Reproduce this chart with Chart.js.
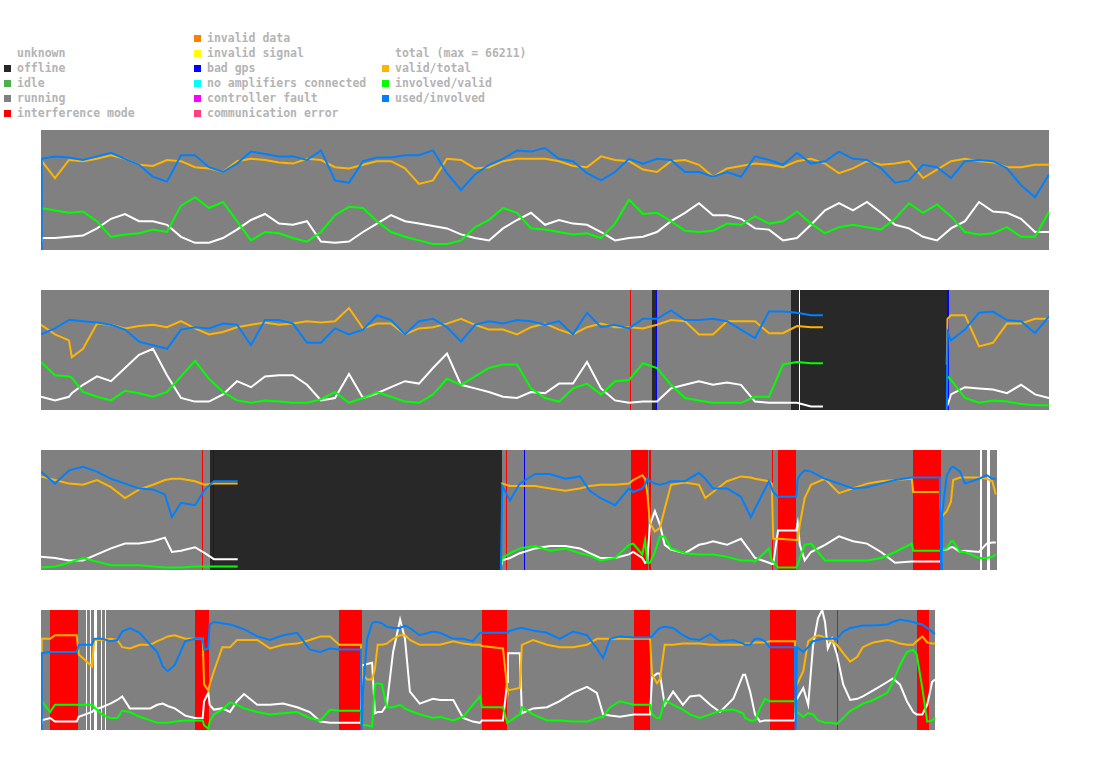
<!DOCTYPE html>
<html>
<head>
<meta charset="utf-8">
<script src="https://cdn.jsdelivr.net/npm/chart.js@4.4.1/dist/chart.umd.min.js"></script>
<style>
  body { margin: 0; background: #fff; width: 1095px; height: 764px; position: relative; overflow: hidden; }
  #legend { position: absolute; left: 0; top: 0; font: bold 11.5px "DejaVu Sans Mono", monospace; color: #b4b4b4; }
  .key { position: absolute; white-space: pre; line-height: 15px; height: 15px; }
  .sw { position: absolute; width: 7px; height: 7px; }
  .strip { position: absolute; left: 41px; width: 1008px; height: 120px; }
</style>
</head>
<body>
<div id="legend"></div>
<div class="strip" style="top:130px"><canvas id="s1" width="1008" height="120"></canvas></div>
<div class="strip" style="top:290px"><canvas id="s2" width="1008" height="120"></canvas></div>
<div class="strip" style="top:450px"><canvas id="s3" width="1008" height="120"></canvas></div>
<div class="strip" style="top:610px"><canvas id="s4" width="1008" height="120"></canvas></div>
<script>
// status categories
const statusNames = ["unknown", "offline", "idle", "running", "interference mode",
  "invalid data", "invalid signal", "bad gps", "no amplifiers connected",
  "controller fault", "communication error"];
const statusColors = ["#ffffff", "#282828", "#4caf50", "#808080", "#ff0000",
  "#ff8000", "#ffff00", "#0000ff", "#00ffff", "#ff00ff", "#ff4080"];

const seriesNames = ["total (max = 66211)", "valid/total", "involved/valid", "used/involved"];
const seriesColors = ["#ffffff", "#ffb400", "#00ff00", "#0080ff"];

// strip 1 (minutes from strip start, values in %)
const time1 = [0,1,20,40,60,80,100,120,140,160,180,200,220,240,260,280,300,320,340,360,380,400,420,440,460,480,500,520,540,560,580,600,620,640,660,680,700,720,740,760,780,800,820,840,860,880,900,920,940,960,980,1000,1020,1040,1060,1080,1100,1120,1140,1160,1180,1200,1220,1240,1260,1280,1300,1320,1340,1360,1380,1400,1420,1440];
const validTotal1 = [75,75,60,75,74,76,79,76,71,70,75,74,69,68,65,74,76,75,73,72,76,75,69,68,71,74,74,68,55,58,76,75,68,69,74,76,76,76,74,70,69,78,75,74,67,65,74,75,71,61,68,70,72,71,69,74,76,72,64,68,74,71,72,74,60,67,74,76,74,73,69,69,71,71];
const usedInv1 = [0,76,78,77,75,78,81,76,71,61,57,79,79,69,65,72,82,80,78,78,75,83,58,56,74,77,77,79,79,83,64,50,63,71,76,83,82,85,76,74,64,58,65,76,72,76,75,65,65,61,65,61,78,75,71,81,72,74,82,76,75,68,56,58,71,69,60,74,75,74,68,54,44,63];
const invValid1 = [35,35,33,31,32,24,11,13,14,17,15,37,44,35,40,24,8,15,14,10,7,15,29,36,35,24,15,11,8,5,5,8,19,25,35,31,18,17,15,13,14,10,22,42,30,31,24,16,15,16,22,21,28,22,24,32,22,14,19,21,19,17,26,39,31,38,28,15,13,14,19,11,11,32];
const total1 = [8,10,10,11,12,18,26,30,24,24,21,11,6,6,10,17,25,30,22,21,24,7,6,7,15,22,29,24,22,20,18,13,10,8,18,25,31,21,25,22,21,15,8,10,11,15,24,31,39,29,29,26,18,17,8,10,21,33,39,33,40,31,21,18,11,8,18,24,40,32,31,26,15,15];
const status1 = [[0,1440,3]];

// strip 2
const time2 = [0,20,40,44,60,80,100,120,140,160,180,200,220,240,260,280,300,320,340,360,380,400,420,440,460,480,500,520,540,560,580,600,620,640,660,680,700,720,740,760,780,800,820,840,860,880,900,920,940,960,980,1000,1020,1040,1060,1080,1100,1117,1200,1294,1295,1300,1320,1340,1360,1380,1400,1420,1440];
const validTotal2 = [71,63,58,44,51,72,71,68,70,71,69,74,68,63,65,69,71,73,71,72,74,73,74,85,68,72,72,63,68,69,72,76,71,67,67,63,69,72,67,63,69,72,69,69,68,71,75,74,63,63,74,74,74,64,64,70,69,69,null,38,76,79,79,53,56,72,72,76,76];
const usedInv2 = [63,68,75,75,74,73,71,67,57,54,51,67,69,68,72,71,54,75,75,72,56,56,68,63,67,79,75,63,74,76,69,57,71,74,72,75,74,71,74,63,81,69,71,68,76,76,83,75,75,76,74,67,60,82,82,81,79,79,null,0,65,58,67,81,82,75,74,64,78];
const invValid2 = [40,29,28,27,15,11,8,16,14,11,15,28,41,26,15,8,6,8,7,6,6,9,15,6,10,15,11,7,6,13,26,21,28,35,38,38,18,10,7,18,22,13,24,25,39,35,21,10,8,6,6,6,11,11,38,40,39,39,null,28,28,25,10,6,8,7,5,4,4];
const total2 = [11,8,11,14,21,28,24,35,46,51,29,10,7,7,13,24,19,28,29,29,21,8,10,30,10,14,19,24,22,35,47,21,18,15,11,10,15,14,22,22,40,18,8,6,7,7,18,21,24,21,23,21,7,6,6,6,3,3,null,4,4,13,19,18,17,14,21,13,10];
const status2 = [[0,841,3],[841,843,4],[843,873,3],[873,878,1],[878,879.5,7],[879.5,1071,3],[1071,1083,1],[1083,1084.5,0],[1084.5,1294,1],[1294,1297,7],[1297,1440,3]];

// strip 3
const time3 = [0,20,40,60,80,100,120,140,160,177,187,200,220,234,247,281,400,657,659,670,684,706,727,749,770,784,799,820,840,846,859,863,866,870,877,884,891,900,920,940,949,960,980,1000,1014,1020,1040,1044,1046,1053,1079,1081,1084,1091,1100,1120,1140,1160,1180,1200,1220,1244,1246,1284,1286,1287,1294,1300,1303,1313,1320,1340,1351,1359,1364];
const validTotal3 = [78,75,72,71,75,69,60,67,71,75,76,76,74,71,72,72,null,72,72,70,70,70,68,66,68,70,71,71,72,75,79,76,65,39,32,35,51,71,73,71,60,65,74,78,77,76,74,72,26,26,25,25,38,60,71,76,64,68,72,74,75,76,65,65,44,44,49,57,75,77,77,77,76,74,63];
const usedInv3 = [82,72,83,86,82,76,72,68,67,63,44,56,54,67,74,74,null,0,70,58,72,80,80,76,78,66,60,54,68,65,68,71,76,74,72,71,72,74,74,81,76,68,68,61,44,51,74,68,65,61,61,76,79,83,82,76,72,68,69,72,75,77,77,77,0,45,79,85,86,82,72,76,79,76,76];
const invValid3 = [2,3,6,10,7,4,4,4,3,2,2,2,3,3,3,3,null,5,10,14,18,20,16,18,14,12,8,10,21,22,13,25,6,6,15,28,28,18,14,13,13,13,11,8,8,7,18,8,7,2,2,4,10,21,22,8,8,8,8,10,15,22,16,16,16,17,18,24,24,15,15,10,10,11,13];
const total3 = [11,10,8,8,13,18,22,22,24,27,15,16,19,14,9,9,null,3,8,10,14,18,20,20,18,14,10,10,13,15,10,6,7,38,49,38,21,17,14,21,22,24,21,26,15,10,6,5,5,33,33,39,21,8,15,21,28,24,22,15,6,7,7,7,7,17,17,19,19,15,16,15,22,23,23];
const status3 = [[0,230,3],[230,232,4],[232,241,3],[241,246,1],[246,247.5,7],[247.5,659,1],[659,664,3],[664,666,4],[666,690,3],[690,691.5,7],[691.5,843,3],[843,867,4],[867,869,3],[869,871,4],[871,1044,3],[1044,1046,4],[1046,1053,3],[1053,1079,4],[1079,1246,3],[1246,1286,4],[1286,1341,3],[1341,1344,0],[1344,1351,3],[1351,1356,0],[1356,1366,3]];

// strip 4
const time4 = [0,1,13,20,51,54,73,76,87,99,109,116,127,141,156,166,174,181,191,206,220,231,233,239,241,247,259,270,280,290,309,327,346,366,384,399,413,426,457,458,460,466,473,477,481,487,494,503,513,520,527,541,560,570,589,603,617,627,630,660,666,667,684,687,703,723,741,760,780,794,803,813,827,847,870,873,880,884,891,903,917,927,941,956,970,989,1003,1006,1013,1020,1027,1034,1041,1077,1078,1080,1089,1096,1103,1110,1116,1120,1124,1130,1137,1146,1156,1166,1174,1189,1209,1217,1227,1237,1246,1251,1259,1266,1273,1277];
const validTotal4 = [65,76,76,79,79,63,53,75,75,76,75,69,68,71,71,74,76,78,79,76,76,76,38,33,38,49,69,69,75,75,75,68,71,72,75,78,78,71,71,49,46,42,42,51,71,71,72,76,79,79,75,71,71,71,74,72,71,71,70,68,35,33,35,71,75,71,69,69,71,76,76,76,76,76,76,46,39,42,71,71,72,72,72,71,71,71,71,72,72,73,73,73,74,74,38,38,49,74,77,79,78,77,75,74,71,64,57,61,69,73,75,74,72,71,71,74,78,73,72,72];
const usedInv4 = [0,64,65,65,65,71,71,76,76,74,75,82,85,81,71,65,53,49,54,74,76,76,67,68,88,90,89,88,86,84,78,75,79,81,67,65,68,67,67,0,33,76,89,90,90,89,86,85,85,87,85,79,82,81,76,76,74,81,81,81,81,82,85,85,83,81,76,82,79,68,60,76,78,77,77,78,83,85,86,85,79,76,75,80,74,75,72,71,71,76,76,74,69,69,0,69,65,69,74,75,76,76,76,76,76,82,85,86,87,87,88,90,92,91,90,89,88,85,82,80];
const invValid4 = [25,25,15,21,21,21,21,19,13,10,10,16,15,11,8,6,6,6,7,8,8,8,4,1,7,13,17,23,21,18,15,13,14,15,10,8,17,16,16,4,4,4,3,38,39,38,19,19,21,18,16,13,10,11,8,11,21,28,19,19,6,6,13,19,13,8,8,7,7,10,11,19,24,21,21,13,10,10,25,21,17,13,10,13,16,17,14,10,8,8,18,26,24,24,15,15,11,14,13,8,7,6,6,6,5,10,16,19,22,25,31,40,54,65,67,63,35,7,8,10];
const total4 = [6,8,10,7,7,11,15,17,19,22,25,28,18,18,18,21,22,20,18,12,10,10,24,31,21,17,18,15,24,30,21,21,22,19,15,7,6,6,6,54,54,55,56,14,15,15,21,65,92,76,32,22,26,25,25,10,7,6,8,8,40,64,64,14,18,19,24,31,36,31,13,12,11,13,13,44,47,47,21,32,21,28,29,21,15,26,46,46,32,13,7,8,8,8,26,26,35,21,71,93,100,90,68,76,63,38,25,26,28,33,40,43,38,24,15,13,13,21,40,42];
const status4 = [[0,13,3],[13,53,4],[53,64,3],[64,66,0],[66,70,3],[70,71.5,0],[71.5,75,3],[75,80,0],[80,86,3],[86,87.5,0],[87.5,91,3],[91,92.5,0],[92.5,220,3],[220,240,4],[240,426,3],[426,459,4],[459,630,3],[630,666,4],[666,847,3],[847,870,4],[870,1041,3],[1041,1078,4],[1078,1137,3],[1137,1139,4],[1139,1251,3],[1251,1269,4],[1269,1277,3]];

// legend
const legend = document.getElementById("legend");
function addKey(x, row, text, color) {
  const y = 37 + 15 * row;
  const sw = document.createElement("div");
  sw.className = "sw";
  sw.style.left = x + "px";
  sw.style.top = (y - 2.5) + "px";
  sw.style.background = color;
  legend.appendChild(sw);
  const t = document.createElement("div");
  t.className = "key";
  t.style.left = (x + 13) + "px";
  t.style.top = (y - 6.5) + "px";
  t.textContent = text;
  legend.appendChild(t);
}
statusNames.forEach((name, i) => {
  if (i < 5) addKey(4, i + 1, name, statusColors[i]);
  else addKey(194, i - 5, name, statusColors[i]);
});
seriesNames.forEach((name, i) => addKey(382, i + 1, name, seriesColors[i]));

// background bands from status spans, placed with the x scale
const statusBands = {
  id: "statusBands",
  beforeDatasetsDraw(chart, args, opts) {
    const { ctx, chartArea, scales: { x } } = chart;
    ctx.save();
    for (const [a, b, s] of opts.spans) {
      const x0 = Math.round(x.getPixelForValue(a));
      const x1 = Math.max(x0 + 1, Math.round(x.getPixelForValue(b)));
      ctx.fillStyle = statusColors[s];
      ctx.fillRect(x0, chartArea.top, x1 - x0, chartArea.bottom - chartArea.top);
    }
    ctx.restore();
  }
};

function pts(t, v) {
  return t.map((x, i) => ({ x: x, y: v[i] }));
}

function drawStrip(id, t, spans, used, involved, valid, total) {
  new Chart(document.getElementById(id), {
    type: "line",
    data: {
      datasets: [
        { label: seriesNames[3], data: pts(t, used), borderColor: seriesColors[3] },
        { label: seriesNames[1], data: pts(t, valid), borderColor: seriesColors[1] },
        { label: seriesNames[2], data: pts(t, involved), borderColor: seriesColors[2] },
        { label: seriesNames[0], data: pts(t, total), borderColor: seriesColors[0] }
      ]
    },
    options: {
      responsive: false,
      animation: false,
      events: [],
      layout: { padding: 0 },
      elements: { point: { radius: 0 }, line: { borderWidth: 2, tension: 0, fill: false } },
      scales: {
        x: { type: "linear", min: 0, max: 1440, display: false },
        y: { min: 0, max: 100, display: false }
      },
      plugins: {
        legend: { display: false },
        tooltip: { enabled: false },
        statusBands: { spans: spans }
      }
    },
    plugins: [statusBands]
  });
}

drawStrip("s1", time1, status1, usedInv1, invValid1, validTotal1, total1);
drawStrip("s2", time2, status2, usedInv2, invValid2, validTotal2, total2);
drawStrip("s3", time3, status3, usedInv3, invValid3, validTotal3, total3);
drawStrip("s4", time4, status4, usedInv4, invValid4, validTotal4, total4);
</script>
</body>
</html>
